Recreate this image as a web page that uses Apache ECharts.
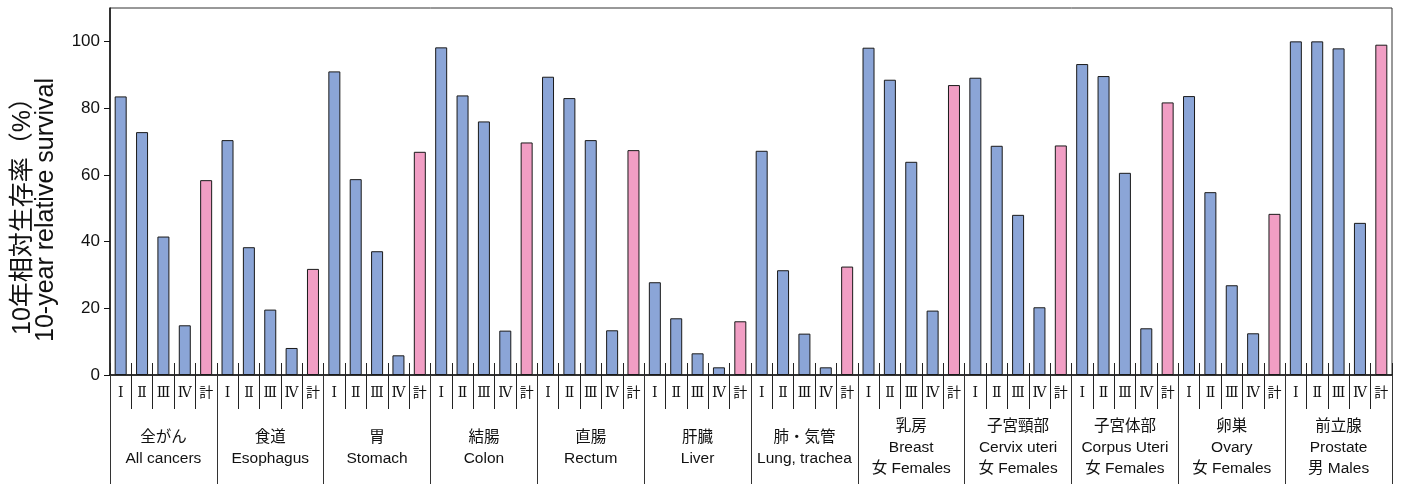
<!DOCTYPE html>
<html>
<head>
<meta charset="utf-8">
<script src="https://cdn.jsdelivr.net/npm/echarts@6/dist/echarts.min.js"></script>
<style>
html,body{margin:0;padding:0;background:#fff;}
#chart{width:1402px;height:484px;}
</style>
</head>
<body>
<div id="chart"></div>
<script>
// ---- data ----
const groups = ['全がん\nAll cancers', '食道\nEsophagus', '胃\nStomach', '結腸\nColon', '直腸\nRectum', '肝臓\nLiver', '肺・気管\nLung, trachea', '乳房\nBreast\n女 Females', '子宮頸部\nCervix uteri\n女 Females', '子宮体部\nCorpus Uteri\n女 Females', '卵巣\nOvary\n女 Females', '前立腺\nProstate\n男 Males'];
const stages = ['Ⅰ', 'Ⅱ', 'Ⅲ', 'Ⅳ', '計'];
const stageI   = [83.5, 70.4, 91.0, 98.2, 89.4, 27.8, 67.2, 98.1, 89.1, 93.2, 83.6, 100.0];
const stageII  = [72.8, 38.3, 58.7, 83.8, 83.0, 17.0, 31.4, 88.5, 68.7, 89.6, 54.8, 100.0];
const stageIII = [41.5, 19.6, 37.1, 76.0, 70.4, 6.5, 12.4, 63.9, 48.0, 60.6, 26.9, 97.9];
const stageIV  = [14.9, 8.1, 5.9, 13.3, 13.4, 2.3, 2.3, 19.3, 20.3, 14.0, 12.5, 45.6];
const total    = [58.4, 31.8, 66.9, 69.7, 67.4, 16.1, 32.5, 86.9, 68.8, 81.7, 48.3, 99.0];
const yTicks = [0, 20, 40, 60, 80, 100];

// ---- build ----
const cats = [];
const values = [];
const perStage = [stageI, stageII, stageIII, stageIV, total];
groups.forEach((g, gi) => {
  stages.forEach((s, si) => {
    cats.push(s);
    values.push({ value: perStage[si][gi], itemStyle: { color: si === 4 ? '#f19ec4' : '#8ba5d7' } });
  });
});

const chart = echarts.init(document.getElementById('chart'), null, { renderer: 'canvas' });
const GRID = { left: 110, right: 10, top: 8, bottom: 109 };
const option = {
  animation: false,
  grid: Object.assign({ show: true, borderColor: '#333', borderWidth: 1, backgroundColor: 'transparent' }, GRID),
  xAxis: [
    {
      type: 'category', gridIndex: 0, position: 'bottom', data: cats, boundaryGap: true,
      axisLine: { show: true, lineStyle: { color: '#111', width: 1.5 } },
      axisTick: { show: true, inside: true, length: 12, interval: 0, lineStyle: { color: '#222', width: 1 } },
      axisLabel: { show: true, interval: 0, margin: 18, verticalAlign: 'middle', color: '#111', fontSize: 14,
        fontFamily: '"DejaVu Serif", "Noto Sans CJK JP", serif' }
    },
    {
      type: 'category', gridIndex: 0, position: 'bottom', data: cats, boundaryGap: true,
      axisLine: { show: false },
      axisTick: { show: true, inside: false, length: 34, interval: 0, lineStyle: { color: '#222', width: 1 } },
      axisLabel: { show: false }
    },
    {
      type: 'category', gridIndex: 0, position: 'bottom', data: groups, boundaryGap: true,
      axisLine: { show: false },
      axisTick: { show: true, inside: false, length: 110, interval: 0, lineStyle: { color: '#333', width: 1 } },
      axisLabel: { show: true, interval: 0, margin: 73, verticalAlign: 'middle', align: 'center', color: '#111', fontSize: 15.5, lineHeight: 21,
        fontFamily: '"Liberation Sans", "Noto Sans CJK JP", sans-serif' }
    }
  ],
  yAxis: {
    type: 'value', min: 0, max: 110, interval: 20,
    axisLine: { show: true, lineStyle: { color: '#111', width: 1.5 } },
    axisTick: { show: true, length: 6, customValues: yTicks, lineStyle: { color: '#111' } },
    axisLabel: { customValues: yTicks, color: '#111', fontSize: 17, margin: 10,
      fontFamily: '"Liberation Sans", sans-serif' },
    splitLine: { show: false }
  },
  graphic: [{
    type: 'text', x: 35, y: 210, rotation: Math.PI / 2,
    style: {
      text: '10年相対生存率（%）\n10-year relative survival',
      fill: '#111', fontSize: 25, lineHeight: 23,
      fontFamily: '"Liberation Sans", "Noto Sans CJK JP", sans-serif',
      align: 'center', verticalAlign: 'middle'
    }
  }],
  series: [{
    type: 'bar', xAxisIndex: 0, yAxisIndex: 0, data: values, barWidth: 12,
    itemStyle: { borderColor: '#1a1a1a', borderWidth: 1 }
  }]
};
chart.setOption(option);
</script>
</body>
</html>
